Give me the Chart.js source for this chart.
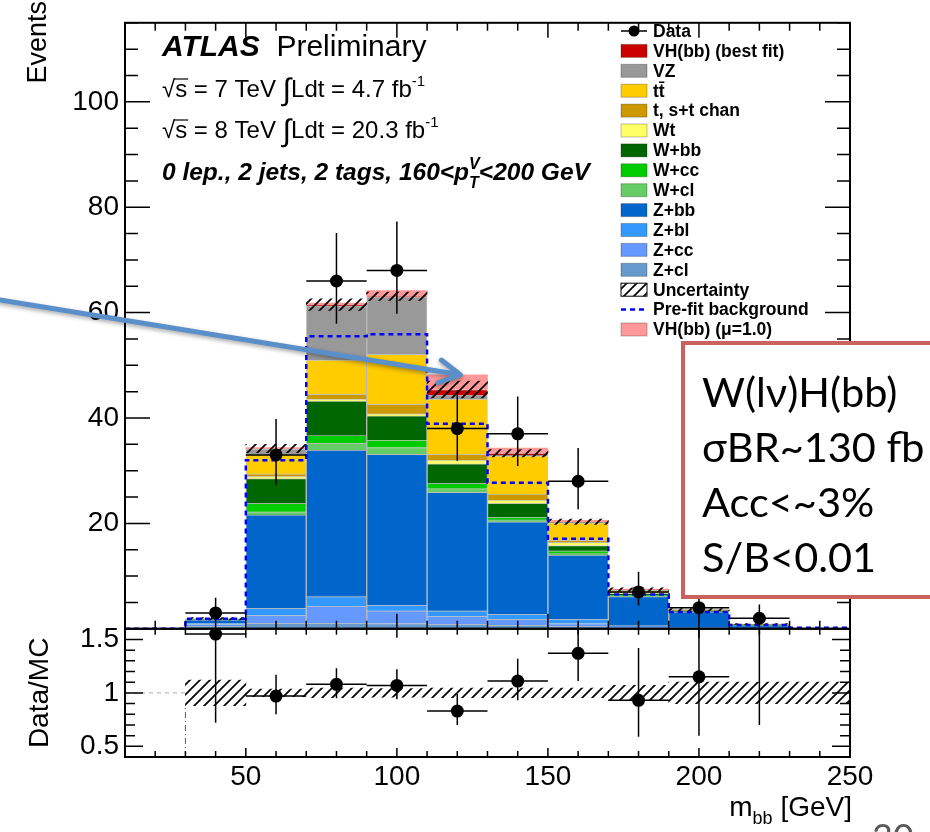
<!DOCTYPE html>
<html lang="en">
<head>
<meta charset="UTF-8">
<title>m_bb, 0 lepton, 2 jets, 2 tags</title>
<script src="https://cdn.jsdelivr.net/npm/chart.js"></script>
<style>
  body { margin: 0; background: #fff; }
  canvas { display: block; }
</style>
</head>
<body>
<canvas id="mbb" width="930" height="832"></canvas>
<script>
// ---- binning (GeV) ----
const binCentres = [40, 60, 80, 100, 120, 140, 160, 180, 200, 220, 240];
const binEdges = [10, 30, 50, 70, 90, 110, 130, 150, 170, 190, 210, 230, 250];

// ---- post-fit backgrounds, events per bin (bins 30-50 ... 230-250) ----
const zcl   = [0.5, 1.1, 1.1, 1.0, 0.9, 0.7, 0.5, 0.2, 0.1, 0, 0];
const zcc   = [0.3, 1.5, 3.2, 2.4, 1.5, 1.1, 0.5, 0.2, 0.1, 0.05, 0];
const zbl   = [0.3, 1.3, 1.8, 1.1, 1.0, 1.0, 0.8, 0.2, 0.1, 0.05, 0];
const zbb   = [0.6, 17.7, 27.8, 28.6, 22.5, 17.5, 12.2, 5.5, 2.9, 0.5, 0.1];
const wcl   = [0.05, 0.6, 1.3, 1.3, 0.7, 0.4, 0.3, 0.1, 0.05, 0.02, 0];
const wcc   = [0.05, 1.6, 1.5, 1.4, 1.0, 0.5, 0.5, 0.2, 0.05, 0.03, 0];
const wbb   = [0.05, 4.7, 6.5, 4.6, 3.7, 2.6, 1.0, 0.3, 0.1, 0.1, 0];
const wt    = [0, 0.4, 0.4, 0.4, 0.7, 0.6, 0.6, 0.1, 0.05, 0.03, 0];
const stop  = [0.05, 0.5, 0.9, 1.8, 1.1, 1.1, 0.4, 0.1, 0.05, 0.02, 0];
const ttbar = [0, 3.7, 6.5, 9.5, 10.5, 7.3, 3.3, 0.4, 0.1, 0.05, 0];
const vz    = [0, 1.0, 10.3, 10.8, 0.7, 0.2, 0.1, 0.1, 0.05, 0.05, 0];
const vhFit = [0, 0.1, 0.2, 0.2, 1.1, 0.3, 0.1, 0.05, 0, 0, 0];

// signal at mu = 1 stacked on top, and total uncertainty (+-)
const vhMu1 = [0, 0.2, 0.3, 1.1, 2.8, 1.0, 0.3, 0.1, 0, 0, 0];
const bkgUnc = [0.2, 0.8, 1.1, 0.8, 1.6, 0.7, 0.5, 0.3, 0.2, 0.1, 0.05];

// pre-fit background, one value per bin from 10-30 to 230-250
const prefit = [0, 1.9, 32.0, 55.5, 55.9, 38.9, 27.7, 17.1, 6.5, 3.2, 0.7, 0.2];

// data with asymmetric Poisson errors
const dataCounts = [3, 33, 66, 68, 38, 37, 28, 7, 4, 2, null];
const dataErrLo  = [1.6, 5.7, 8.1, 8.2, 6.1, 6.1, 5.3, 2.6, 1.9, 1.3, null];
const dataErrHi  = [2.9, 6.8, 9.1, 9.3, 7.2, 7.1, 6.3, 3.8, 3.2, 2.6, null];

// Data/MC ratio
const ratio      = [1.55, 0.97, 1.08, 1.07, 0.83, 1.11, 1.37, 0.93, 1.15, 2.2, null];
const ratioErrLo = [0.83, 0.17, 0.13, 0.13, 0.13, 0.18, 0.26, 0.34, 0.55, 1.5, null];
const ratioErrHi = [1.2, 0.2, 0.15, 0.15, 0.16, 0.21, 0.31, 0.49, 0.9, 2.0, null];
const ratioUnc   = [0.12, 0.035, 0.045, 0.04, 0.045, 0.045, 0.045, 0.07, 0.1, 0.1, 0.1];

const yMax = 115;
const ratioMin = 0.4, ratioMax = 1.6;

const FONT = "'Liberation Sans', Arial, Helvetica, sans-serif";
Chart.defaults.font.family = FONT;
Chart.defaults.color = '#000';

// ROOT style 3354 hatching
const hatch = (() => {
  const c = document.createElement('canvas');
  c.width = c.height = 10;
  const g = c.getContext('2d');
  g.strokeStyle = '#000';
  g.lineWidth = 1.7;
  g.beginPath();
  g.moveTo(-2, 12); g.lineTo(12, -2);
  g.moveTo(-5, 5); g.lineTo(5, -5);
  g.moveTo(5, 15); g.lineTo(15, 5);
  g.stroke();
  return g.createPattern(c, 'repeat');
})();

// stack, bottom first
const stackOrder = [
  ['Z+cl', zcl, '#6699cc'],
  ['Z+cc', zcc, '#6699ff'],
  ['Z+bl', zbl, '#3399ff'],
  ['Z+bb', zbb, '#0066cc'],
  ['W+cl', wcl, '#66cc66'],
  ['W+cc', wcc, '#00cc00'],
  ['W+bb', wbb, '#006600'],
  ['Wt', wt, '#ffff66'],
  ['t, s+t chan', stop, '#cc9900'],
  ['tt\u0304', ttbar, '#ffcc00'],
  ['VZ', vz, '#999999'],
  ['VH(bb) (best fit)', vhFit, '#cc0000']
];

const histBar = {
  type: 'bar', grouped: false, barPercentage: 1, categoryPercentage: 1
};

let running = binCentres.map(() => 0);
const stackSets = stackOrder.map(([label, vals, colour]) => {
  const lo = running.slice();
  running = running.map((r, i) => r + vals[i]);
  return Object.assign({}, histBar, {
    label, yAxisID: 'y', order: 10,
    backgroundColor: colour, borderColor: 'rgba(0,0,0,0.22)', borderWidth: 1,
    data: binCentres.map((c, i) => ({ x: c, y: vals[i] > 0 ? [lo[i], running[i]] : null }))
  });
});
const total = running;

const signalSet = Object.assign({}, histBar, {
  label: 'VH(bb) (\u03bc=1.0)', yAxisID: 'y', order: 8,
  backgroundColor: '#ff9999', borderWidth: 0,
  data: binCentres.map((c, i) => ({ x: c, y: vhMu1[i] > 0 ? [total[i], total[i] + vhMu1[i]] : null }))
});

const uncSet = Object.assign({}, histBar, {
  label: 'Uncertainty', yAxisID: 'y', order: 6,
  backgroundColor: hatch, borderWidth: 0,
  data: binCentres.map((c, i) => ({ x: c, y: [total[i] - bkgUnc[i], total[i] + bkgUnc[i]] }))
});

const prefitSet = {
  type: 'line', label: 'Pre-fit background', yAxisID: 'y', order: 4,
  borderColor: '#0000ff', borderWidth: 2.5, borderDash: [5, 4],
  pointRadius: 0, fill: false,
  data: prefit.flatMap((v, i) => [{ x: binEdges[i], y: v }, { x: binEdges[i + 1], y: v }])
};

const dataSet = {
  type: 'line', label: 'Data', yAxisID: 'y', order: 1, showLine: false,
  pointRadius: 6.5, pointBackgroundColor: '#000', pointBorderWidth: 0,
  data: binCentres.map((c, i) => ({ x: c, y: dataCounts[i] }))
};

const ratioBandSet = Object.assign({}, histBar, {
  label: 'ratio band', yAxisID: 'yr', order: 6,
  backgroundColor: hatch, borderWidth: 0,
  data: binCentres.map((c, i) => ({ x: c, y: [1 - ratioUnc[i], 1 + ratioUnc[i]] }))
});

const ratioSet = {
  type: 'line', label: 'ratio', yAxisID: 'yr', order: 1, showLine: false,
  pointRadius: c => (c.raw && c.raw.y > ratioMax) ? 0 : 6.5,
  pointBackgroundColor: '#000', pointBorderWidth: 0,
  data: binCentres.map((c, i) => ({ x: c, y: ratio[i] }))
};

// empty first bin: unity reference and the band's left edge
const unityLine = {
  type: 'line', yAxisID: 'yr', order: 5, borderColor: '#aaa', borderWidth: 1,
  borderDash: [4, 4], pointRadius: 0,
  data: [{ x: binEdges[0], y: 1 }, { x: binEdges[1], y: 1 }]
};
const edgeLine = {
  type: 'line', yAxisID: 'yr', order: 5, borderColor: '#555', borderWidth: 1,
  borderDash: [6, 3, 1, 3], pointRadius: 0,
  data: [{ x: binEdges[1], y: ratioMin }, { x: binEdges[1], y: 1 - ratioUnc[0] }]
};

// ---- drawing helpers for the ROOT look ----
function line(ctx, x0, y0, x1, y1) { ctx.moveTo(x0, y0); ctx.lineTo(x1, y1); }

function errorBars(ctx, xs, ys, vals, lo, hi, clipTop, clipBottom) {
  const a = xs.chart.chartArea;
  ctx.save();
  ctx.beginPath();
  ctx.rect(a.left, clipTop, a.right - a.left, clipBottom - clipTop);
  ctx.clip();
  ctx.strokeStyle = '#000';
  ctx.lineWidth = 1.5;
  ctx.beginPath();
  vals.forEach((v, i) => {
    if (v === null) return;
    const px = xs.getPixelForValue(binCentres[i]);
    const py = ys.getPixelForValue(v);
    line(ctx, xs.getPixelForValue(binEdges[i + 1]), py, xs.getPixelForValue(binEdges[i + 2]), py);
    line(ctx, px, ys.getPixelForValue(v - lo[i]), px, ys.getPixelForValue(v + hi[i]));
  });
  ctx.stroke();
  ctx.restore();
}

function xTicks(ctx, xs, y, dir, major, minor) {
  for (let v = 10; v <= 250; v += 10) {
    const px = xs.getPixelForValue(v);
    line(ctx, px, y, px, y + dir * (v % 50 === 0 ? major : minor));
  }
}

function yTicks(ctx, ys, x, dir, from, to, step, majorEvery, major, minor) {
  const n = Math.round((to - from) / step);
  for (let k = 0; k <= n; k++) {
    const v = from + k * step;
    const py = ys.getPixelForValue(v);
    const isMajor = Math.abs(v / majorEvery - Math.round(v / majorEvery)) < 1e-6;
    line(ctx, x, py, x + dir * (isMajor ? major : minor), py);
  }
}

function runs(ctx, x, y, parts) {
  for (const p of parts) {
    ctx.font = p.font;
    ctx.fillText(p.t, x, y + (p.dy || 0));
    const w = ctx.measureText(p.t).width;
    if (p.over) {
      ctx.beginPath();
      ctx.lineWidth = 1.2;
      line(ctx, x - 1, y - p.over, x + w + 1, y - p.over);
      ctx.stroke();
    }
    x += p.adv === 0 ? 0 : w;
  }
  return x;
}

const rootLook = {
  id: 'rootLook',
  afterDatasetsDraw(chart) {
    const { ctx, scales } = chart;
    errorBars(ctx, scales.x, scales.y, dataCounts, dataErrLo, dataErrHi, scales.y.top, scales.y.bottom);
    errorBars(ctx, scales.x, scales.yr, ratio, ratioErrLo, ratioErrHi, scales.yr.top, scales.yr.bottom);
  },
  afterDraw(chart) {
    const { ctx, chartArea: a, scales } = chart;
    const xs = scales.x, y = scales.y, yr = scales.yr;
    ctx.save();

    // frames and inward ticks
    ctx.strokeStyle = '#000';
    ctx.lineWidth = 2;
    ctx.strokeRect(a.left, y.top, a.right - a.left, y.bottom - y.top);
    ctx.strokeRect(a.left, yr.top, a.right - a.left, yr.bottom - yr.top);
    ctx.lineWidth = 1.5;
    ctx.beginPath();
    xTicks(ctx, xs, y.top, 1, 15, 8);
    xTicks(ctx, xs, y.bottom, -1, 15, 8);
    xTicks(ctx, xs, yr.top, 1, 9, 6);
    xTicks(ctx, xs, yr.bottom, -1, 9, 6);
    yTicks(ctx, y, a.left, 1, 0, yMax, 5, 20, 25, 13);
    yTicks(ctx, y, a.right, -1, 0, yMax, 5, 20, 25, 13);
    yTicks(ctx, yr, a.left, 1, ratioMin, ratioMax, 0.1, 0.5, 18, 10);
    yTicks(ctx, yr, a.right, -1, ratioMin, ratioMax, 0.1, 0.5, 18, 10);
    ctx.stroke();

    // axis titles
    ctx.fillStyle = '#000';
    ctx.font = '27px ' + FONT;
    ctx.textBaseline = 'alphabetic';
    ctx.save();
    ctx.translate(46, 1);
    ctx.rotate(-Math.PI / 2);
    ctx.textAlign = 'right';
    ctx.fillText('Events', 0, 0);
    ctx.restore();
    ctx.save();
    ctx.font = '28px ' + FONT;
    ctx.translate(48, (yr.top + yr.bottom) / 2);
    ctx.rotate(-Math.PI / 2);
    ctx.textAlign = 'center';
    ctx.fillText('Data/MC', 0, 0);
    ctx.restore();

    ctx.textAlign = 'left';
    const big = '28px ' + FONT, sub = '18px ' + FONT;
    ctx.font = big;
    const wTitle = ctx.measureText('m').width + (ctx.font = sub, ctx.measureText('bb').width) +
      (ctx.font = big, ctx.measureText(' [GeV]').width);
    runs(ctx, a.right + 2 - wTitle, 816, [
      { t: 'm', font: big }, { t: 'bb', font: sub, dy: 8 }, { t: ' [GeV]', font: big }
    ]);

    // ATLAS label block
    const x0 = 162;
    runs(ctx, x0, 56, [
      { t: 'ATLAS', font: 'bold italic 30px ' + FONT },
      { t: '  Preliminary', font: '30px ' + FONT }
    ]);
    const f24 = '24px ' + FONT, f15 = '15px ' + FONT, fInt = '31px ' + FONT;
    for (const [yy, energy, lumi] of [[97, '7', '4.7'], [138, '8', '20.3']]) {
      runs(ctx, x0, yy, [
        { t: '\u221a', font: f24 }, { t: 's', font: f24, over: 18 },
        { t: ' = ' + energy + ' TeV ', font: f24 },
        { t: '\u222b', font: fInt, dy: 3 },
        { t: 'Ldt = ' + lumi + ' fb', font: f24 },
        { t: '-1', font: f15, dy: -11 }
      ]);
    }
    const bi = 'bold italic 24.5px ' + FONT, bis = 'bold italic 16px ' + FONT;
    runs(ctx, x0, 180, [
      { t: '0 lep., 2 jets, 2 tags, 160<p', font: bi },
      { t: 'V', font: bis, dy: -11, adv: 0 }, { t: 'T', font: bis, dy: 8 },
      { t: '<200 GeV', font: bi }
    ]);

    // legend
    const rows = [{ label: 'Data', kind: 'data' }]
      .concat(stackOrder.slice().reverse().map(([label, , colour]) => ({ label, colour })))
      .concat([
        { label: 'Uncertainty', kind: 'hatch' },
        { label: 'Pre-fit background', kind: 'dash' },
        { label: signalSet.label, colour: signalSet.backgroundColor }
      ]);
    const bx = 621, bw = 26, tx = 653;
    ctx.textBaseline = 'middle';
    ctx.font = 'bold 17.5px ' + FONT;
    rows.forEach((r, i) => {
      const cy = 31 + i * 19.9;
      if (r.kind === 'data') {
        ctx.beginPath(); ctx.lineWidth = 1.5;
        line(ctx, bx, cy, bx + bw, cy); ctx.stroke();
        ctx.beginPath(); ctx.arc(bx + bw / 2, cy, 5.5, 0, Math.PI * 2); ctx.fill();
      } else if (r.kind === 'dash') {
        ctx.save(); ctx.strokeStyle = '#0000ff'; ctx.lineWidth = 2.5; ctx.setLineDash([5, 4]);
        ctx.beginPath(); line(ctx, bx, cy, bx + bw, cy); ctx.stroke(); ctx.restore();
      } else {
        ctx.fillStyle = r.kind === 'hatch' ? hatch : r.colour;
        ctx.fillRect(bx, cy - 6.5, bw, 13);
        ctx.lineWidth = 1;
        ctx.strokeStyle = r.kind === 'hatch' ? '#000' : 'rgba(0,0,0,0.25)';
        ctx.strokeRect(bx, cy - 6.5, bw, 13);
        ctx.strokeStyle = '#000';
        ctx.fillStyle = '#000';
      }
      ctx.fillText(r.label, tx, cy + 1);
    });

    // arrow pointing at the signal
    const p0 = { x: xs.getPixelForValue(-31.4), y: y.getPixelForValue(62.4) };
    const p1 = { x: xs.getPixelForValue(121), y: y.getPixelForValue(48.2) };
    const ang = Math.atan2(p1.y - p0.y, p1.x - p0.x);
    ctx.save();
    ctx.strokeStyle = '#5b8fca';
    ctx.lineWidth = 5;
    ctx.lineCap = 'round';
    ctx.shadowColor = 'rgba(0,0,0,0.35)';
    ctx.shadowBlur = 4;
    ctx.shadowOffsetY = 2;
    ctx.beginPath();
    line(ctx, p0.x, p0.y, p1.x, p1.y);
    for (const s of [-1, 1]) {
      const t = ang + Math.PI + s * 0.5;
      line(ctx, p1.x, p1.y, p1.x + 24 * Math.cos(t), p1.y + 24 * Math.sin(t));
    }
    ctx.stroke();
    ctx.restore();

    // summary box
    ctx.fillStyle = '#fff';
    ctx.fillRect(683, 343, 260, 254);
    ctx.strokeStyle = '#c9625c';
    ctx.lineWidth = 4;
    ctx.strokeRect(683, 343, 260, 254);
    ctx.fillStyle = '#000';
    ctx.textBaseline = 'alphabetic';
    ctx.font = '41.5px Lato, ' + FONT;
    ['W(l\u03bd)H(bb)', '\u03c3BR~130 fb', 'Acc<~3%', 'S/B<0.01'].forEach((s, i) => {
      ctx.fillText(s, 702, 407 + i * 55);
    });

    // slide number
    ctx.fillStyle = '#595959';
    ctx.font = '36px Lato, ' + FONT;
    ctx.fillText('30', 872, 850);
    ctx.restore();
  }
};

new Chart(document.getElementById('mbb'), {
  type: 'bar',
  data: {
    datasets: stackSets.concat([signalSet, uncSet, prefitSet, dataSet, ratioBandSet, unityLine, edgeLine, ratioSet])
  },
  options: {
    responsive: false,
    animation: false,
    devicePixelRatio: 1,
    layout: { padding: { left: 0, right: 80, top: 7, bottom: 0 } },
    plugins: { legend: { display: false }, tooltip: { enabled: false } },
    scales: {
      x: {
        type: 'linear', min: 10, max: 250, offset: false,
        grid: { display: false, drawTicks: false }, border: { display: false },
        ticks: {
          stepSize: 50, autoSkip: false, padding: 3, maxRotation: 0,
          font: { size: 28 },
          callback: v => (v >= 50 && v % 50 === 0) ? v : ''
        },
        afterFit: s => { s.height = 75; }
      },
      y: {
        type: 'linear', position: 'left', stack: 'panels', stackWeight: 619, weight: 1,
        min: 0, max: yMax,
        grid: { display: false, drawTicks: false }, border: { display: false },
        ticks: {
          stepSize: 20, autoSkip: false, padding: 6, font: { size: 28 }, includeBounds: false,
          callback: v => (v > 0 && v % 20 === 0) ? v : ''
        },
        afterFit: s => { s.width = 125; }
      },
      yr: {
        type: 'linear', position: 'left', stack: 'panels', stackWeight: 131, weight: 0,
        min: ratioMin, max: ratioMax,
        grid: { display: false, drawTicks: false }, border: { display: false },
        ticks: {
          stepSize: 0.5, autoSkip: false, padding: 6, font: { size: 28 }, includeBounds: false,
          callback: v => Math.abs(v * 2 - Math.round(v * 2)) < 1e-6 ? String(Math.round(v * 10) / 10) : ''
        },
        afterFit: s => { s.width = 125; }
      }
    }
  },
  plugins: [rootLook]
});
</script>
</body>
</html>
